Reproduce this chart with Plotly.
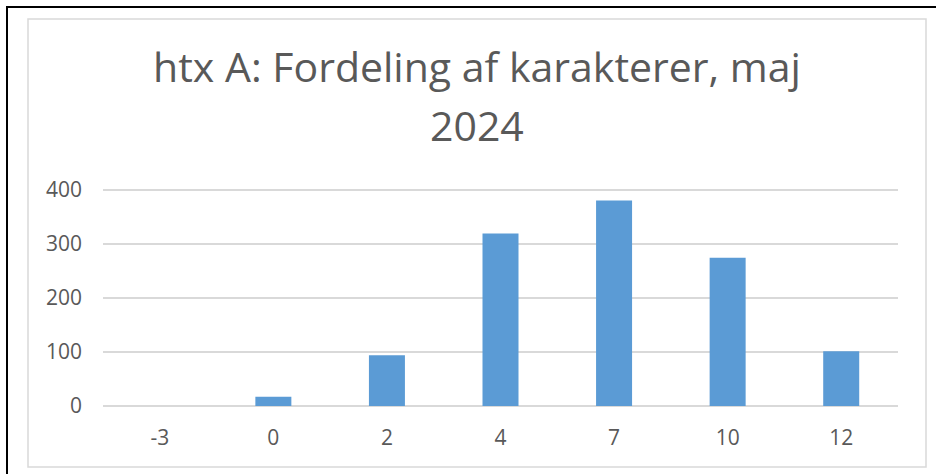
import plotly.graph_objects as go

grades = ["-3", "0", "2", "4", "7", "10", "12"]
counts = [0, 17, 94, 319, 380, 274, 101]
y_ticks = [0, 100, 200, 300, 400]
title_line1 = "htx A: Fordeling af karakterer, maj"
title_line2 = "2024"

W, H = 936, 474
L, R, T, B = 103, 38, 188, 68
PW, PH = W - L - R, H - T - B

def px(x):
    return (x - L) / PW

def py(y):
    return (H - B - y) / PH

GRAY = "#595959"
GRID = "#D9D9D9"
FONT = "Open Sans"

fig = go.Figure(
    go.Bar(
        x=grades,
        y=counts,
        marker=dict(color="#5B9BD5", line=dict(width=0)),
    )
)

shapes = [
    # inner chart border
    dict(type="rect", xref="paper", yref="paper",
         x0=px(28), x1=px(926), y0=py(19), y1=py(467),
         line=dict(color=GRID, width=1.5), fillcolor="rgba(0,0,0,0)", layer="below"),
    # outer black frame (left & top)
    dict(type="line", xref="paper", yref="paper",
         x0=px(7), x1=px(7), y0=py(7), y1=py(480),
         line=dict(color="black", width=2)),
    dict(type="line", xref="paper", yref="paper",
         x0=px(6), x1=px(940), y0=py(7), y1=py(7),
         line=dict(color="black", width=2)),
]

fig.update_layout(
    width=W, height=H,
    margin=dict(l=L, r=R, t=T, b=B),
    paper_bgcolor="white", plot_bgcolor="white",
    showlegend=False,
    bargap=0.683,
    title=dict(text=title_line1, x=477 / W, xanchor="center", xref="container",
               y=1 - 82 / H, yanchor="bottom", yref="container",
               font=dict(family=FONT, size=41, color=GRAY)),
    annotations=[
        dict(text=title_line2, xref="paper", yref="paper",
             x=px(477), y=py(154), xanchor="center", yanchor="bottom",
             showarrow=False, borderpad=0,
             font=dict(family=FONT, size=41, color=GRAY)),
    ],
    font=dict(family=FONT, color=GRAY),
    shapes=shapes,
)
fig.update_xaxes(
    type="category", showgrid=False, showline=False, zeroline=False,
    ticks="", tickfont=dict(size=21, color=GRAY), ticklabelstandoff=17,
)
fig.update_yaxes(
    range=[0, 403], tickvals=y_ticks, showgrid=True, gridcolor=GRID, gridwidth=1.5,
    zeroline=True, zerolinecolor=GRID, zerolinewidth=1.5, showline=False,
    ticks="", tickfont=dict(size=21, color=GRAY), ticklabelstandoff=20,
)

fig.write_html("out.html", config={"displayModeBar": False},
               post_script="document.body.style.margin='0';")
